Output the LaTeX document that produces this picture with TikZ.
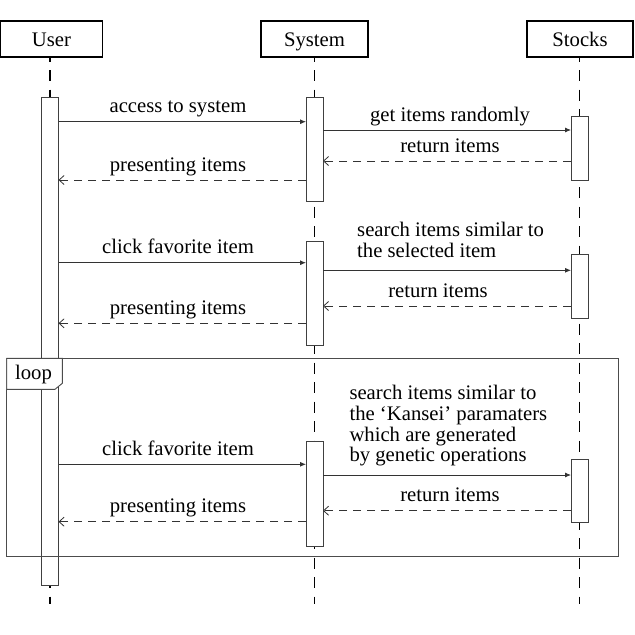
\documentclass[tikz,border=0pt]{standalone}
\usepackage{fontspec}
\setmainfont{Liberation Serif}
\usetikzlibrary{arrows.meta}
\begin{document}
\begin{tikzpicture}[x=1pt,y=-1pt,
  font=\fontsize{20.7}{20.7}\selectfont,
  head/.style={draw=black, line width=1.1pt, minimum width=#1, minimum height=36pt, inner sep=0pt, fill=white, text height=17pt, text depth=2pt},
  act/.style={draw=black!75, line width=0.8pt, fill=white, minimum width=17pt, minimum height=#1, inner sep=0pt, outer sep=0pt, anchor=north},
  lifeline/.style={draw=black, line width=1.6pt, dash pattern=on 11pt off 8.5pt, dash phase=7pt},
  call/.style={draw=black!80, line width=0.8pt, -{Latex[length=6pt,width=5pt]}},
  reply/.style={draw=black!80, line width=0.8pt, dash pattern=on 8pt off 6pt, -{Straight Barb[length=5pt,width=9pt]}},
  lbl/.style={anchor=base, inner sep=0pt},
  mlbl/.style={anchor=base west, inner sep=0pt, align=left},
  frame/.style={draw=black!70, line width=0.9pt},
]
\useasboundingbox (0,0) rectangle (635,635);
% headers
\node[head=102pt] (user) at (51.5,39) {User};
\node[head=107pt] (sys) at (314.5,39) {System};
\node[head=106pt] (stk) at (580,39) {Stocks};
% lifeline ends
\coordinate (uend) at (50,604);
\coordinate (send) at (314.5,604);
\coordinate (kend) at (579.5,604);
\draw[lifeline] (uend |- user.south) -- (uend);
\draw[lifeline] (send |- sys.south) -- (send);
\draw[lifeline] (kend |- stk.south) -- (kend);
% activations
\node[act=488pt] (ua) at (50,97) {};
\node[act=104.7pt] (sa1) at (314.5,97) {};
\node[act=63.7pt] (ka1) at (579.5,116.3) {};
\node[act=104pt] (sa2) at (314.5,241) {};
\node[act=64pt] (ka2) at (579.5,254.3) {};
\node[act=104.3pt] (sa3) at (314.5,441.7) {};
\node[act=63.7pt] (ka3) at (579.5,459) {};
% loop frame
\draw[frame] (6.7,358.3) rectangle (618.3,556.7);
\draw[frame, fill=white] (6.7,358.3) -- (62.3,358.3) -- (62.3,383.3) -- (55,389.3) -- (6.7,389.3) -- cycle;
\node[lbl] (looplbl) at (33.5,379.3) {loop};
% block 1
\draw[call] (ua.east |- 0,121.7) -- (sa1.west |- 0,121.7);
\node[lbl] (l1) at (178,112.7) {access to system};
\draw[call] (sa1.east |- 0,130) -- (ka1.west |- 0,130);
\node[lbl] (l2) at (450,121.3) {get items randomly};
\draw[reply] (ka1.west |- 0,161) -- (sa1.east |- 0,161);
\node[lbl] (l3) at (450,152) {return items};
\draw[reply] (sa1.west |- 0,180) -- (ua.east |- 0,180);
\node[lbl] (l4) at (178,171) {presenting items};
% block 2
\draw[call] (ua.east |- 0,262.7) -- (sa2.west |- 0,262.7);
\node[lbl] (l5) at (178,253.7) {click favorite item};
\draw[call] (sa2.east |- 0,270.3) -- (ka2.west |- 0,270.3);
\node[mlbl] (l6) at (357,257.3) {search items similar to\\the selected item};
\draw[reply] (ka2.west |- 0,306) -- (sa2.east |- 0,306);
\node[lbl] (l7) at (438,297) {return items};
\draw[reply] (sa2.west |- 0,323.3) -- (ua.east |- 0,323.3);
\node[lbl] (l8) at (178,314.3) {presenting items};
% block 3 (loop)
\draw[call] (ua.east |- 0,464.3) -- (sa3.west |- 0,464.3);
\node[lbl] (l9) at (178,455.3) {click favorite item};
\draw[call] (sa3.east |- 0,475) -- (ka3.west |- 0,475);
\node[mlbl] (l10) at (349.3,461.7) {search items similar to\\the ‘Kansei’ paramaters\\which are generated\\by genetic operations};
\draw[reply] (ka3.west |- 0,510.7) -- (sa3.east |- 0,510.7);
\node[lbl] (l11) at (450,501.7) {return items};
\draw[reply] (sa3.west |- 0,521.7) -- (ua.east |- 0,521.7);
\node[lbl] (l12) at (178,512.7) {presenting items};
\end{tikzpicture}
\end{document}
